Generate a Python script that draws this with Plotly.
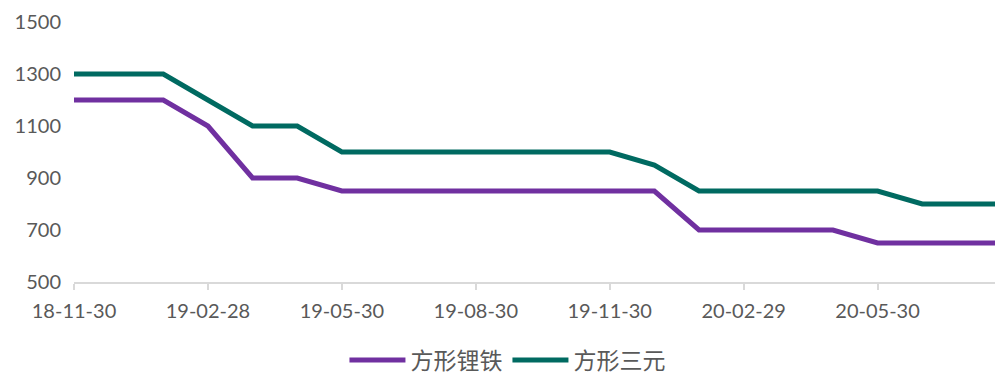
import plotly.graph_objects as go

# Month-end dates (category positions), one per month
months = [
    "18-11-30", "18-12-30", "19-01-30", "19-02-28", "19-03-30", "19-04-30",
    "19-05-30", "19-06-30", "19-07-30", "19-08-30", "19-09-30", "19-10-30",
    "19-11-30", "19-12-30", "20-01-30", "20-02-29", "20-03-30", "20-04-30",
    "20-05-30", "20-06-30", "20-07-30", "20-08-30",
]
lfp_prices = [1200, 1200, 1200, 1100, 900, 900, 850, 850, 850, 850, 850, 850,
              850, 850, 700, 700, 700, 700, 650, 650, 650, 650]
ncm_prices = [1300, 1300, 1300, 1200, 1100, 1100, 1000, 1000, 1000, 1000, 1000, 1000,
              1000, 950, 850, 850, 850, 850, 850, 800, 800, 800]
series_names = ["方形锂铁", "方形三元"]
series_colors = ["#7030A0", "#006A61"]
tick_labels = ["18-11-30", "19-02-28", "19-05-30", "19-08-30", "19-11-30", "20-02-29", "20-05-30"]
y_ticks = [500, 700, 900, 1100, 1300, 1500]

idx = list(range(len(months)))
fig = go.Figure()
for name, vals, col in zip(series_names, [lfp_prices, ncm_prices], series_colors):
    fig.add_trace(go.Scatter(
        x=idx, y=vals, mode="lines", name=name,
        line=dict(color=col, width=5),
        customdata=months,
        hovertemplate="%{customdata}: %{y}<extra>" + name + "</extra>",
    ))

font_family = "Lato, 'Noto Sans CJK SC', sans-serif"
tick_pos = [months.index(t) for t in tick_labels]

fig.update_layout(
    width=995, height=376,
    margin=dict(l=74, r=0, t=22, b=94, autoexpand=False),
    paper_bgcolor="white", plot_bgcolor="white",
    font=dict(family=font_family, size=20, color="#595959"),
    showlegend=True,
    legend=dict(
        orientation="h", xref="container", x=0.51, xanchor="center",
        yref="paper", y=-0.30, yanchor="middle",
        font=dict(size=23, color="#595959", family="'Noto Sans CJK SC', sans-serif"),
        itemwidth=56,
    ),
    xaxis=dict(
        range=[0, 20.63], automargin=False,
        tickmode="array", tickvals=tick_pos, ticktext=tick_labels,
        showgrid=False, zeroline=False,
        showline=True, linecolor="#D9D9D9", linewidth=2,
        ticks="outside", ticklen=6, tickcolor="#D9D9D9", tickwidth=2,
        ticklabelstandoff=4,
    ),
    yaxis=dict(
        range=[500, 1500], tickvals=y_ticks, automargin=False,
        showgrid=False, zeroline=False, showline=False,
        ticks="", ticklabelstandoff=12,
    ),
)

fig.write_html("out.html")
